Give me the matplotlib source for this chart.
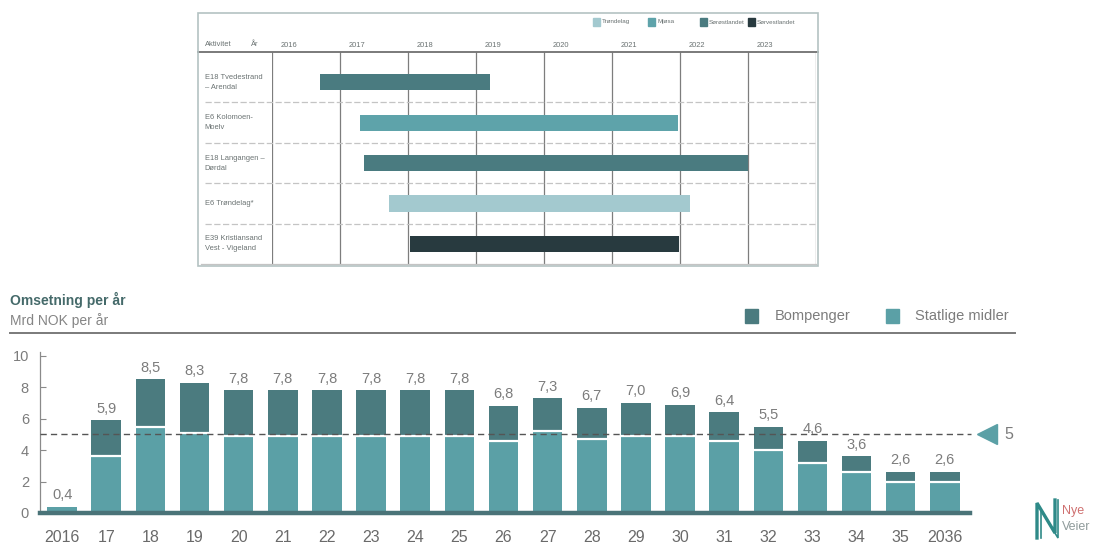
import matplotlib
matplotlib.use("Agg")
import matplotlib.pyplot as plt
from matplotlib.patches import Rectangle
from matplotlib.lines import Line2D
from matplotlib import font_manager

# ---------------- data ----------------
# Project schedule (fractional years)
projects = [
    "E18 Tvedestrand\n– Arendal",
    "E6 Kolomoen-\nMoelv",
    "E18 Langangen –\nDørdal",
    "E6 Trøndelag*",
    "E39 Kristiansand\nVest - Vigeland",
]
proj_start = [2016.7, 2017.3, 2017.35, 2017.72, 2018.03]
proj_end = [2019.2, 2021.97, 2023.0, 2022.15, 2021.98]
proj_region = ["Sørøstlandet", "Mjøsa", "Sørøstlandet", "Trøndelag", "Sørvestlandet"]
regions = ["Trøndelag", "Mjøsa", "Sørøstlandet", "Sørvestlandet"]
gantt_years = [2016, 2017, 2018, 2019, 2020, 2021, 2022, 2023]

# Yearly turnover, billion NOK
year_labels = ["2016", "17", "18", "19", "20", "21", "22", "23", "24", "25", "26",
               "27", "28", "29", "30", "31", "32", "33", "34", "35", "2036"]
totals = [0.4, 5.9, 8.5, 8.3, 7.8, 7.8, 7.8, 7.8, 7.8, 7.8, 6.8,
          7.3, 6.7, 7.0, 6.9, 6.4, 5.5, 4.6, 3.6, 2.6, 2.6]
statlige = [0.4, 3.6, 5.5, 5.1, 4.9, 4.9, 4.9, 4.9, 4.9, 4.9, 4.6,
            5.2, 4.7, 4.9, 4.9, 4.6, 4.0, 3.2, 2.6, 2.0, 2.0]
target_level = 5

# ---------------- style ----------------
W, H = 1113, 545
region_colors = {"Trøndelag": "#a3c9cf", "Mjøsa": "#5ea3aa",
                 "Sørøstlandet": "#4a7b80", "Sørvestlandet": "#283a3f"}
c_bomp = "#4b7b7f"
c_stat = "#5ba0a6"
c_text = "#7c7c7c"
c_gantt_text = "#6a7272"

installed = {f.name for f in font_manager.fontManager.ttflist}
narrow = "Liberation Sans Narrow" if "Liberation Sans Narrow" in installed else "Liberation Sans"
plt.rcParams["font.family"] = [narrow, "DejaVu Sans"]


def fx(x):
    return x / W


def fy(y):
    return 1 - y / H


fig = plt.figure(figsize=(W / 100, H / 100), dpi=100)
fig.patch.set_facecolor("white")

# ---------------- Gantt panel ----------------
fig.patches.append(Rectangle((fx(198), fy(266)), (818 - 198) / W, (266 - 13) / H,
                             transform=fig.transFigure, fill=False,
                             edgecolor="#b4c2c2", lw=1.2))

ax_g = fig.add_axes([fx(272), fy(264), 544 / W, 212 / H])
ax_g.set_xlim(2016, 2024)
ax_g.set_ylim(4.5, -0.75)
ax_g.axis("off")

label_x0 = 2016 - (272 - 198) / 68
# column lines
ax_g.vlines(gantt_years + [2024], -0.75, 4.5, color="#7d7d7d", lw=0.9)
# header rule
ax_g.plot([label_x0, 2024.03], [-0.75, -0.75], color="#6f6f6f", lw=1.3, clip_on=False)
# row separators
for r in range(len(projects) - 1):
    ax_g.plot([label_x0 + 0.1, 2024], [r + 0.5, r + 0.5], color="#c4c4c4",
              lw=0.9, ls=(0, (5, 2)), clip_on=False)
ax_g.plot([label_x0 + 0.05, 2024], [4.5, 4.5], color="#c4c4c4", lw=0.9, clip_on=False)

rows = list(range(len(projects)))
widths = [e - s for s, e in zip(proj_start, proj_end)]
ax_g.barh(rows, widths, left=proj_start, height=0.4,
          color=[region_colors[r] for r in proj_region], zorder=3)

for r, name in zip(rows, projects):
    ax_g.text(label_x0 + 0.1, r, name, ha="left", va="center", fontsize=5.4,
              color=c_gantt_text, linespacing=1.6)

# header texts
fig.text(fx(205), fy(45), "Aktivitet", fontsize=5.4, color=c_gantt_text, va="center")
fig.text(fx(251), fy(45), "År", fontsize=5.4, color=c_gantt_text, va="center")
for yr in gantt_years:
    ax_g.text(yr + 0.13, -0.92, str(yr), fontsize=5.4, color=c_gantt_text,
              ha="left", va="center", clip_on=False)

# region legend
leg_x = [593, 648, 700, 748]
for x, reg in zip(leg_x, regions):
    fig.patches.append(Rectangle((fx(x), fy(26)), 7 / W, 8 / H, transform=fig.transFigure,
                                 color=region_colors[reg]))
    fig.text(fx(x + 9), fy(22), reg, fontsize=4.5, color=c_gantt_text, va="center")

# ---------------- turnover panel ----------------
fig.text(fx(10), fy(300), "Omsetning per år", fontsize=10, fontweight="bold",
         color="#456a6a", va="center", family=["Liberation Sans", "DejaVu Sans"])
fig.text(fx(10), fy(321), "Mrd NOK per år", fontsize=10, color="#858585", va="center")
fig.add_artist(Line2D([fx(10), fx(1015)], [fy(333), fy(333)], color="#7a7a7a", lw=1.4))

# legend
fig.patches.append(Rectangle((fx(745), fy(323)), 13 / W, 14 / H,
                             transform=fig.transFigure, color=c_bomp))
fig.text(fx(775), fy(316), "Bompenger", fontsize=10.5, color=c_text, va="center")
fig.patches.append(Rectangle((fx(886), fy(323)), 13 / W, 14 / H,
                             transform=fig.transFigure, color=c_stat))
fig.text(fx(915), fy(316), "Statlige midler", fontsize=10.5, color=c_text, va="center")

ax = fig.add_axes([fx(40), fy(513), 930 / W, 161 / H])
x = list(range(len(year_labels)))
bomp = [t - s for t, s in zip(totals, statlige)]
bar_w = 0.67
ax.bar(x, statlige, width=bar_w, color=c_stat, zorder=2)
ax.bar(x, bomp, bottom=statlige, width=bar_w, color=c_bomp, zorder=2)
# thin white seam between the two segments
for xi, s, b in zip(x, statlige, bomp):
    if b > 0:
        ax.plot([xi - bar_w / 2, xi + bar_w / 2], [s, s], color="white", lw=1.6, zorder=3)

for xi, t in zip(x, totals):
    ax.text(xi, t + 0.3, f"{t:.1f}".replace(".", ","), ha="center", va="bottom",
            fontsize=10.5, color=c_text)

ax.set_xlim(-0.5, 20.57)
ax.set_ylim(0, 10.25)

# reference level
ax.plot([-0.5, 20.6], [target_level, target_level], color="#555555", lw=1.0,
        ls=(0, (4.5, 3)), zorder=4, clip_on=False)
ax.plot([20.95], [target_level], marker="<", markersize=15, color=c_stat,
        clip_on=False, zorder=5)
ax.text(21.35, target_level, str(target_level), fontsize=11.5, color=c_text,
        va="center", ha="left", clip_on=False)

# axes styling
for side in ["top", "right", "bottom"]:
    ax.spines[side].set_visible(False)
ax.spines["left"].set_color("#8a8a8a")
ax.spines["left"].set_linewidth(0.9)
ax.axhline(0, color="#4a7378", lw=3.2, zorder=5, clip_on=False)
ax.set_yticks([0, 2, 4, 6, 8, 10])
ax.tick_params(axis="y", direction="in", length=4, color="#8a8a8a", pad=8,
               labelsize=10.5, labelcolor=c_text)
ax.set_xticks(x)
ax.set_xticklabels(year_labels)
ax.tick_params(axis="x", length=0, pad=12, labelsize=11.5, labelcolor="#6a6a6a")

# ---------------- logo ----------------
logo_c = "#2f8a88"
fig.add_artist(Line2D([fx(1037), fx(1037), fx(1055), fx(1055)],
                      [fy(538), fy(503), fy(533), fy(500)], color=logo_c, lw=2.4,
                      solid_joinstyle="miter"))
fig.add_artist(Line2D([fx(1041), fx(1041), fx(1058), fx(1058)],
                      [fy(538), fy(510), fy(538), fy(500)], color=logo_c, lw=1.2,
                      solid_joinstyle="miter"))
fig.text(fx(1062), fy(511), "Nye", fontsize=9, color="#cf7070", va="center")
fig.text(fx(1062), fy(527), "Veier", fontsize=9, color="#8f9b9b", va="center")

fig.savefig("out.png", dpi=100, facecolor="white")
